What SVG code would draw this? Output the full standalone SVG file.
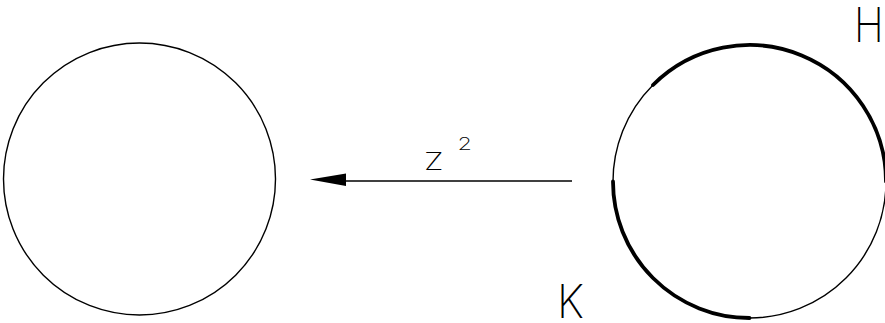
<svg xmlns="http://www.w3.org/2000/svg" width="885" height="323" viewBox="0 0 885 323">
<style>
.thin{fill:none;stroke:#000;stroke-width:1.4}
.thick{fill:none;stroke:#000;stroke-width:3.8;stroke-linecap:round}
.lbl{font-family:Inter,"DejaVu Sans",sans-serif;font-weight:200;fill:#000}
</style>
<rect width="885" height="323" fill="#fff"/>
<g id="left-disk">
<circle class="thin" cx="139.5" cy="179" r="136"/>
</g>
<g id="right-disk">
<circle class="thin" cx="749.5" cy="181.5" r="136.5"/>
<path class="thick" d="M653,85 A136.5,136.5 0 0 1 886,181.5"/>
<path class="thick" d="M613,181.5 A136.5,136.5 0 0 0 749.5,318"/>
</g>
<g id="connectors">
<line class="thin" x1="572" y1="181" x2="346" y2="181"/>
<path d="M310,179.5 L346,173.5 L346,186 Z" fill="#000"/>
</g>
<g id="labels">
<text class="lbl" transform="translate(424,170) scale(1.35,1)" font-size="23.5">Z</text>
<text class="lbl" transform="translate(457.5,150) scale(1.3,1)" font-size="18">2</text>
<text class="lbl" transform="translate(854,42) scale(0.84,1)" font-size="48">H</text>
<text class="lbl" transform="translate(557,318) scale(0.92,1)" font-size="47">K</text>
</g>
</svg>
